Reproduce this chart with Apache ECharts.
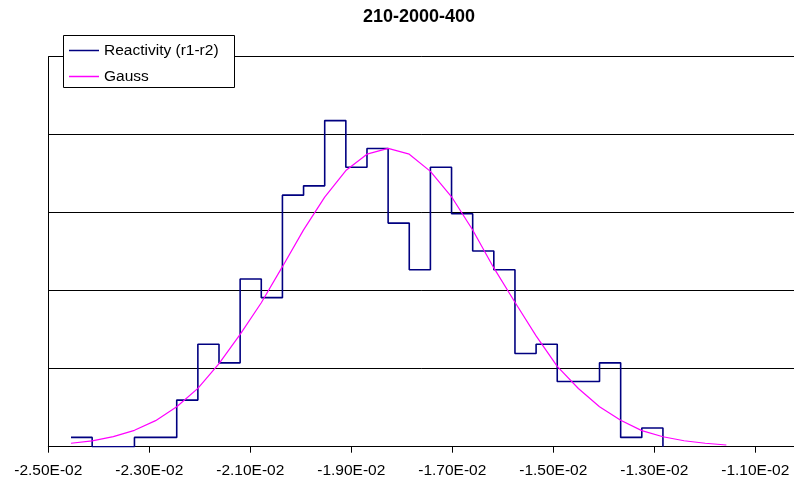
<!DOCTYPE html>
<html>
<head>
<meta charset="utf-8">
<script src="https://cdn.jsdelivr.net/npm/echarts@6/dist/echarts.min.js"></script>
<style>
  html, body { margin: 0; padding: 0; background: #fff; }
  #chart { width: 794px; height: 480px; }
</style>
</head>
<body>
<div id="chart"></div>
<script>
// Histogram of reactivity differences (r1-r2), 28 equal-width bins
const binStart = -0.02455;
const binWidth = 0.0004186;
const sampleSize = 400;
const binCounts = [1, 0, 0, 1, 1, 5, 11, 9, 18, 16, 27, 28, 35, 30, 32, 24,
                   19, 30, 25, 21, 19, 10, 11, 7, 7, 9, 1, 2];

// Fitted Gauss density, sampled at the bin edges
const gaussDensity = [2.2, 3.7, 6.5, 10.5, 16.7, 25.6, 37.4, 53.2, 72.0, 92.3,
                      115.4, 139.0, 160.0, 177.0, 187.5, 191.2, 187.5, 176.5,
                      160.2, 138.9, 114.6, 92.6, 71.0, 51.5, 37.3, 25.6, 17.0,
                      10.3, 6.4, 3.8, 2.2, 1.1];

const xTicks = [-0.025, -0.023, -0.021, -0.019, -0.017, -0.015, -0.013, -0.011];
const seriesNames = ['Reactivity (r1-r2)', 'Gauss'];
const chartTitle = '210-2000-400';

const edge = i => binStart + i * binWidth;

// Stepped outline of the histogram, as probability density
const histPoints = [];
binCounts.forEach((c, i) => {
  const d = c / (sampleSize * binWidth);
  histPoints.push([edge(i), d], [edge(i + 1), d]);
});
histPoints.push([edge(binCounts.length), 0]);

const gaussPoints = gaussDensity.map((d, i) => [edge(i), d]);

function sciLabel(v) {
  const parts = v.toExponential(2).split('e');
  const n = parseInt(parts[1], 10);
  const a = Math.abs(n);
  return parts[0] + 'E' + (n < 0 ? '-' : '+') + (a < 10 ? '0' : '') + a;
}

const font = '"Liberation Sans", Arial, sans-serif';
const chart = echarts.init(document.getElementById('chart'), null, { renderer: 'canvas' });

chart.setOption({
  animation: false,
  backgroundColor: '#ffffff',
  title: {
    text: chartTitle,
    left: 363,
    top: 8,
    padding: 0,
    textStyle: { fontFamily: font, fontSize: 18, fontWeight: 'bold', color: '#000' }
  },
  graphic: [{
    type: 'rect',
    z: 10,
    shape: { x: 63.5, y: 35.5, width: 171, height: 52 },
    style: { fill: '#ffffff', stroke: '#000000', lineWidth: 1 }
  }],
  legend: {
    z: 11,
    orient: 'vertical',
    left: 69,
    top: 42.5,
    padding: 0,
    itemGap: 10,
    itemWidth: 30,
    itemHeight: 1.5,
    icon: 'rect',
    textStyle: { fontFamily: font, fontSize: 15.5, color: '#000', lineHeight: 16 },
    data: seriesNames
  },
  grid: { left: 48.3, right: 0, top: 56.7, bottom: 33.3 },
  xAxis: {
    type: 'value',
    min: -0.025,
    max: -0.010234,
    interval: 0.002,
    axisLine: { show: true, onZero: false, lineStyle: { color: '#000', width: 1 } },
    axisTick: { show: true, length: 6, customValues: xTicks, lineStyle: { color: '#000' } },
    axisLabel: {
      customValues: xTicks,
      margin: 16,
      fontFamily: font,
      fontSize: 15.5,
      color: '#000',
      formatter: sciLabel
    },
    splitLine: { show: false }
  },
  yAxis: {
    type: 'value',
    min: 0,
    max: 250,
    interval: 50,
    axisLine: { show: true, lineStyle: { color: '#000', width: 1 } },
    axisTick: { show: false },
    axisLabel: { show: false },
    splitLine: { show: true, lineStyle: { color: '#000', width: 1 } }
  },
  series: [
    {
      name: seriesNames[0],
      type: 'line',
      data: histPoints,
      showSymbol: false,
      symbol: 'none',
      color: '#000080',
      lineStyle: { color: '#000080', width: 1.6 },
      z: 3
    },
    {
      name: seriesNames[1],
      type: 'line',
      data: gaussPoints,
      showSymbol: false,
      symbol: 'none',
      color: '#ff00ff',
      lineStyle: { color: '#ff00ff', width: 1.2 },
      z: 4
    }
  ]
});
</script>
</body>
</html>
